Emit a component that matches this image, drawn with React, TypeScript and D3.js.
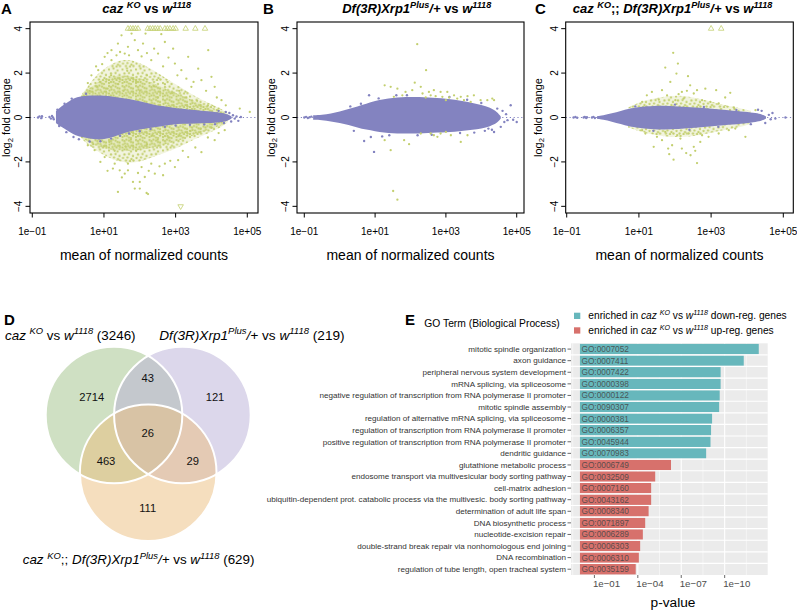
import React from 'react';
import * as d3 from 'd3';

const FONT = "'Liberation Sans', Arial, Helvetica, sans-serif";
const PURPLE = '#8383c0';
const GREEN = '#c3cf6f';

// ---------- MA plot axes ----------
const maXTicks = [-1, 1, 3, 5];
const maXTickLabels = ['1e\u221201', '1e+01', '1e+03', '1e+05'];
const maYTicks = [-4, -2, 0, 2, 4];
const maYTickLabels = ['\u22124', '\u22122', '0', '2', '4'];

// ---------- Panel A: caz KO vs w1118 ----------
// envelopes: [log10 mean, upper log2FC, lower log2FC]
const aPurpleEnv = [
  [-0.34, 0.28, -0.25], [-0.2, 0.5, -0.42], [0.0, 0.7, -0.6], [0.18, 0.9, -0.8], [0.45, 0.98, -0.9],
  [0.75, 1.0, -1.0], [1.05, 0.98, -0.98], [1.3, 0.93, -0.85], [1.6, 0.85, -0.68], [1.86, 0.78, -0.58],
  [2.14, 0.68, -0.5], [2.42, 0.56, -0.43], [2.6, 0.52, -0.4], [2.88, 0.45, -0.32], [3.2, 0.4, -0.28],
  [3.54, 0.33, -0.27], [3.9, 0.28, -0.25], [4.28, 0.22, -0.22], [4.45, 0.15, -0.15], [4.56, 0.05, -0.05],
];
const aGreenEnv = [
  [0.35, 0.95, -0.9], [0.5, 1.3, -1.15], [0.75, 1.85, -1.45], [1.0, 2.2, -1.7], [1.25, 2.45, -1.9],
  [1.5, 2.6, -2.0], [1.75, 2.6, -2.05], [2.0, 2.45, -2.0], [2.25, 2.25, -1.85], [2.5, 2.0, -1.7],
  [2.75, 1.75, -1.55], [3.0, 1.5, -1.4], [3.25, 1.25, -1.2], [3.5, 1.0, -1.0], [3.75, 0.78, -0.82],
  [4.0, 0.6, -0.65], [4.25, 0.4, -0.45], [4.45, 0.2, -0.22],
];
const aGreenDenseEnv = [
  [0.4, 1.1, -0.95], [0.75, 1.5, -1.25], [1.0, 1.75, -1.4], [1.5, 1.95, -1.5], [2.0, 1.8, -1.5],
  [2.5, 1.45, -1.3], [3.0, 1.1, -1.1], [3.5, 0.75, -0.8], [4.0, 0.45, -0.5], [4.35, 0.25, -0.3],
];
const aPurplePts = [
  [-0.84, 0.0], [-0.8, 0.05], [-0.75, -0.03], [-0.73, 0.06], [-0.52, 0.02], [-0.48, -0.05], [-0.45, 0.07],
  [-0.42, 0.0], [-0.4, -0.08], [4.6, 0.1], [4.65, -0.05], [4.7, 0.05], [4.75, -0.15], [4.82, 0.02],
  [4.5, 0.2], [4.55, -0.18], [4.4, 0.25], [4.35, -0.25],
  [-0.3, 0.35], [-0.25, -0.38], [-0.1, 0.62], [-0.05, -0.66], [0.1, 0.85], [0.15, -0.88], [0.3, -0.98],
  [0.6, -1.08], [0.9, -1.07], [1.2, -0.95], [1.45, -0.82], [0.5, 1.07], [1.7, -0.72], [2.0, -0.62],
  [2.3, -0.52], [2.7, -0.42], [3.0, -0.36], [3.4, -0.33], [3.8, -0.31], [4.1, -0.3], [4.2, 0.3],
];
const aGreenPts = [
  [2.6, 3.75], [2.16, 3.78], [2.09, 3.33], [2.7, 3.4], [3.91, 3.03], [2.93, 3.1], [1.49, 3.7], [1.67, 3.18],
  [1.21, 3.03], [1.02, 2.73], [1.39, 3.33], [1.86, 3.48], [2.51, 2.88], [3.35, 2.73], [3.63, 2.2], [4.0, 1.83],
  [3.16, 2.13], [1.21, 2.58], [0.84, 2.13], [2.32, 2.58], [2.98, 2.43], [3.72, 1.68], [4.09, 1.38], [3.44, 1.38],
  [4.28, 0.78], [4.79, 0.4], [5.07, 0.25], [1.58, 2.88], [1.95, 3.03], [1.35, 2.8], [1.77, 3.78],
  [2.4, 3.1], [2.8, 2.7], [1.1, 2.9], [0.95, 2.4], [2.2, 2.9], [3.05, 1.9], [3.5, 1.6], [0.65, 1.9],
  [0.55, 1.55], [1.7, 2.8], [2.65, 2.3], [3.85, 1.2], [4.15, 0.9], [4.4, 0.55], [1.45, 2.95], [2.05, 2.75],
  [0.78, 2.3], [3.3, 1.75],
  [0.6, 1.2], [0.9, 1.6], [1.2, 1.9], [1.4, 1.5], [1.65, 2.1], [1.9, 1.6], [2.2, 1.9], [2.4, 1.4], [2.7, 1.5],
  [2.9, 1.1], [3.1, 1.2], [3.3, 0.9], [3.6, 0.75], [3.9, 0.55], [4.2, 0.4], [1.1, 1.3], [1.55, 1.2], [2.0, 1.2],
  [2.5, 0.9], [0.8, 1.4],
  [1.39, -3.35], [1.81, -2.9], [2.0, -2.9], [1.86, -3.2], [2.0, -3.2], [1.58, -2.53], [1.67, -2.38],
  [2.14, -2.68], [2.42, -2.53], [2.65, -2.6], [2.98, -2.23], [2.7, -2.08], [1.3, -2.08], [1.02, -1.78],
  [0.74, -1.47], [3.35, -1.78], [3.72, -1.56], [4.09, -1.02], [4.37, -0.57], [3.07, -1.92], [2.05, -2.23],
  [2.32, -2.08], [1.67, -2.08], [1.44, -2.38], [1.25, -2.3], [2.19, -3.4], [2.23, -3.45],
  [0.55, -1.25], [0.9, -2.0], [1.1, -2.4], [2.25, -2.4], [2.85, -1.95], [3.2, -1.5], [3.55, -1.35], [3.9, -0.9],
  [4.2, -0.7], [1.95, -2.5], [2.55, -2.2], [1.5, -2.7],
  [0.7, -1.2], [1.0, -1.3], [1.3, -1.5], [1.6, -1.3], [1.9, -1.5], [2.2, -1.2], [2.5, -1.0], [2.8, -0.9],
  [3.1, -0.8], [3.4, -0.6], [3.7, -0.5], [4.0, -0.45], [1.15, -1.1], [1.75, -1.0], [2.35, -0.8],
];
const aUpTriangles = [1.67, 1.74, 1.81, 1.88, 1.95, 2.22, 2.29, 2.36, 2.43, 2.5, 2.57, 2.7, 2.77, 2.84, 2.93, 3.0, 3.28, 3.55, 3.82];
const aDownTriangles = [3.14];

// ---------- Panel B: Df(3R)Xrp1Plus/+ vs w1118 ----------
const bPurpleEnv = [
  [-0.75, 0.1, -0.1], [-0.5, 0.12, -0.12], [-0.25, 0.18, -0.17], [0.0, 0.27, -0.25], [0.25, 0.38, -0.33],
  [0.5, 0.5, -0.45], [0.75, 0.62, -0.55], [1.0, 0.75, -0.62], [1.25, 0.82, -0.68], [1.5, 0.88, -0.72],
  [1.75, 0.92, -0.72], [2.0, 0.93, -0.72], [2.25, 0.92, -0.72], [2.5, 0.9, -0.7], [2.75, 0.88, -0.68],
  [3.0, 0.85, -0.66], [3.25, 0.8, -0.64], [3.5, 0.73, -0.6], [3.75, 0.65, -0.55], [4.0, 0.57, -0.5],
  [4.25, 0.45, -0.4], [4.45, 0.25, -0.25], [4.55, 0.05, -0.05],
];
const bPurplePts = [
  [-1.0, 0.0], [-0.95, 0.03], [-0.9, -0.02], [-0.85, 0.01], [-0.8, 0.04], [0.69, -1.06], [0.88, -0.88],
  [0.97, -1.55], [0.83, 1.0], [4.36, -0.65], [4.55, -0.42], [4.83, 0.55], [5.0, -0.2], [4.74, -0.12],
  [4.6, 0.3], [4.65, -0.2], [4.7, 0.15], [4.9, -0.1], [4.3, -0.55], [4.1, -0.6], [1.2, -0.85], [1.6, 1.0],
  [3.8, -0.68], [4.45, 0.4], [0.4, -0.6], [0.3, 0.5],
  [0.6, 0.62], [1.1, 0.86], [1.4, -0.8], [1.9, 1.0], [2.2, -0.8], [2.6, -0.78], [3.1, 0.92], [3.4, -0.7],
  [3.6, 0.8], [4.0, 0.65], [4.2, -0.5],
];
const bGreenPts = [
  [2.19, 3.3], [2.44, 2.13], [1.27, 1.45], [1.44, 1.38], [2.12, 1.57], [2.29, 1.38], [1.63, 1.3], [2.05, 1.23],
  [1.86, 1.15], [2.52, 1.15], [2.66, 1.23], [2.85, 1.15], [3.04, 1.15], [3.23, 1.0], [3.42, 0.93], [3.61, 0.96],
  [3.79, 1.0], [3.98, 0.78], [4.17, 0.78], [4.31, 0.85], [4.36, 0.78], [2.34, 1.08], [2.57, 1.0], [2.71, 0.96],
  [2.9, 0.93], [3.09, 0.9], [3.32, 0.85], [2.43, 0.9], [3.0, 0.78], [3.51, 0.78], [3.7, 0.7], [1.77, 1.0],
  [1.53, 0.93],
  [1.27, -1.02], [1.44, -1.47], [1.96, -1.2], [1.82, -1.02], [2.66, -0.8], [2.85, -0.72], [3.42, -1.1],
  [3.61, -0.8], [3.0, -0.65], [2.57, -0.72], [2.76, -0.87], [1.51, -3.31], [1.63, -3.7], [2.29, -0.72],
  [3.14, -0.8],
];

// ---------- Panel C: caz KO;; Df(3R)Xrp1Plus/+ vs w1118 ----------
const cPurpleEnv = [
  [-0.16, 0.06, -0.06], [0.0, 0.1, -0.1], [0.25, 0.18, -0.18], [0.5, 0.3, -0.3], [0.72, 0.4, -0.4],
  [1.0, 0.47, -0.47], [1.18, 0.5, -0.5], [1.64, 0.55, -0.55], [2.1, 0.5, -0.52], [2.56, 0.45, -0.47],
  [3.03, 0.4, -0.4], [3.49, 0.32, -0.32], [3.95, 0.25, -0.27], [4.25, 0.2, -0.2], [4.41, 0.14, -0.14],
  [4.52, 0.05, -0.05],
];
const cGreenEnv = [
  [0.7, 0.45, -0.45], [1.0, 0.68, -0.62], [1.3, 0.82, -0.75], [1.7, 0.95, -0.85], [2.1, 1.0, -0.9],
  [2.5, 0.92, -0.85], [2.9, 0.75, -0.72], [3.3, 0.58, -0.58], [3.7, 0.45, -0.48], [4.1, 0.3, -0.3],
];
const cPurplePts = [
  [-0.81, 0.0], [-0.76, 0.02], [-0.71, -0.01], [-0.53, 0.0], [-0.5, 0.03], [-0.46, -0.02], [-0.44, 0.01],
  [-0.3, 0.0], [-0.26, 0.03], [-0.22, -0.02], [4.6, 0.12], [4.65, -0.08], [4.7, 0.2], [4.78, -0.05],
  [5.06, 0.0], [4.4, 0.3], [4.5, -0.25], [4.3, 0.35],
  [0.9, 0.5], [1.4, -0.6], [2.0, 0.58], [2.4, -0.55], [2.8, 0.47], [3.2, -0.42], [3.7, 0.34], [4.1, -0.3],
];
const cGreenPts = [
  [1.95, 2.91], [1.73, 2.25], [2.08, 2.43], [2.04, 1.98], [2.36, 1.86], [1.87, 1.6], [2.42, 1.45], [2.84, 1.3],
  [3.14, 1.23], [3.53, 1.11], [3.39, 0.9], [1.36, 1.15], [1.22, 1.0], [1.64, 1.23], [2.19, 1.15], [2.61, 1.23],
  [2.52, 1.08], [2.24, 0.85], [2.01, 0.78], [1.55, 0.81], [1.09, 0.7], [2.75, 0.78], [2.98, 0.7], [3.21, 0.63],
  [3.63, 0.45], [4.23, 0.33], [1.78, 1.0], [2.1, 1.05], [2.33, 1.2],
  [1.96, -1.9], [2.61, -2.05], [2.31, -1.6], [2.43, -1.7], [1.81, -1.4], [1.41, -1.32], [1.92, -1.25],
  [2.52, -1.32], [2.56, -1.5], [2.93, -0.87], [3.95, -0.87], [1.64, -1.02], [2.15, -0.95], [1.18, -0.72],
  [1.09, -0.57], [3.21, -0.72], [3.49, -0.57], [3.67, -0.5], [2.75, -0.8], [2.06, -0.8], [1.5, -0.87],
  [2.38, -0.72], [1.73, -0.65], [2.7, -1.1], [2.19, -1.4], [1.84, -1.65],
];
const cUpTriangles = [3.0, 3.28];

// ---------- Panel D: Venn ----------
const vennSetTotals = [3246, 219, 629];
const vennRegionKeys = ['A', 'B', 'C', 'AB', 'AC', 'BC', 'ABC'];
const vennRegionCounts = [2714, 121, 111, 43, 463, 29, 26];

// ---------- Panel E: GO enrichment ----------
const goTerms = [
  'mitotic spindle organization',
  'axon guidance',
  'peripheral nervous system development',
  'mRNA splicing, via spliceosome',
  'negative regulation of transcription from RNA polymerase II promoter',
  'mitotic spindle assembly',
  'regulation of alternative mRNA splicing, via spliceosome',
  'regulation of transcription from RNA polymerase II promoter',
  'positive regulation of transcription from RNA polymerase II promoter',
  'dendritic guidance',
  'glutathione metabolic process',
  'endosome transport via multivesicular body sorting pathway',
  'cell-matrix adhesion',
  'ubiquitin-dependent prot. catabolic process via the multivesic. body sorting pathway',
  'determination of adult life span',
  'DNA biosynthetic process',
  'nucleotide-excision repair',
  'double-strand break repair via nonhomologous end joining',
  'DNA recombination',
  'regulation of tube length, open tracheal system',
];
const goIds = [
  'GO:0007052', 'GO:0007411', 'GO:0007422', 'GO:0000398', 'GO:0000122', 'GO:0090307', 'GO:0000381',
  'GO:0006357', 'GO:0045944', 'GO:0070983', 'GO:0006749', 'GO:0032509', 'GO:0007160', 'GO:0043162',
  'GO:0008340', 'GO:0071897', 'GO:0006289', 'GO:0006303', 'GO:0006310', 'GO:0035159',
];
const goPValues = [
  4.4e-13, 4.8e-12, 1.9e-10, 1.9e-10, 2.2e-10, 2.4e-10, 7.4e-10, 8.7e-10, 9.5e-10, 1.9e-9,
  5.1e-7, 6.3e-6, 1.2e-5, 1.2e-5, 1.8e-5, 3.1e-5, 4.5e-5, 6.9e-5, 8.5e-5, 1.4e-4,
];
const goDirection = ['down', 'down', 'down', 'down', 'down', 'down', 'down', 'down', 'down', 'down',
  'up', 'up', 'up', 'up', 'up', 'up', 'up', 'up', 'up', 'up'];
const goMajorExp = [1, 4, 7, 10];
const goMajorLabels = ['1e\u221201', '1e\u221204', '1e\u221207', '1e\u221210'];
const goMinorExp = [-0.5, 2.5, 5.5, 8.5, 11.5];

const TEAL = '#67b7bc';
const SALMON = '#d7716c';

type Seg = { t: string; i?: boolean; sup?: boolean; sub?: boolean };

function Rich({ x = 0, y = 0, size, anchor = 'start', segs, weight = 'normal', fill = '#000' }:
  { x?: number; y?: number; size: number; anchor?: string; segs: Seg[]; weight?: string; fill?: string }) {
  let cur = 0;
  return (
    <text x={x} y={y} fontSize={size} textAnchor={anchor} fontFamily={FONT} fontWeight={weight} fill={fill}
      style={{ whiteSpace: 'pre' }}>
      {segs.map((s, k) => {
        const target = s.sup ? -size * 0.4 : s.sub ? size * 0.25 : 0;
        const dy = target - cur;
        cur = target;
        return (
          <tspan key={k} dy={dy} fontSize={s.sup || s.sub ? size * 0.7 : size} fontStyle={s.i ? 'italic' : 'normal'}>
            {s.t}
          </tspan>
        );
      })}
    </text>
  );
}

const W1118: Seg[] = [{ t: 'w', i: true }, { t: '1118', i: true, sup: true }];
const CAZKO: Seg[] = [{ t: 'caz', i: true }, { t: ' ' }, { t: 'KO', i: true, sup: true }];
const DF: Seg[] = [{ t: 'Df(3R)Xrp1', i: true }, { t: 'Plus', i: true, sup: true }, { t: '/+', i: true }];

// speckle textures (style only) used to render dense point clouds
function SpeckleDefs() {
  const tileA = [[1, 2], [5.5, 1], [9.5, 3], [3, 6], [7.5, 5.5], [11.5, 7.5], [1.5, 9.5], [6, 9], [10, 10.5], [4.5, 12], [8.5, 12.5], [12, 12]];
  const tileB = [[3, 1], [7.5, 2.5], [11.5, 0.5], [1, 5], [5, 4.5], [9.5, 7], [3.5, 8.5], [7, 11], [11.5, 10.5], [1, 12.5]];
  return (
    <defs>
      <pattern id="speckA" width={13.5} height={13.5} patternUnits="userSpaceOnUse">
        {tileA.map((p, k) => <circle key={k} cx={p[0]} cy={p[1]} r={1.15} fill={GREEN} />)}
      </pattern>
      <pattern id="speckB" width={13.5} height={13.5} patternUnits="userSpaceOnUse">
        {tileB.map((p, k) => <circle key={k} cx={p[0]} cy={p[1]} r={1.15} fill={GREEN} />)}
      </pattern>
    </defs>
  );
}

function MAPlot(props: any) {
  const { left, right, xDomain, purpleEnv, greenEnv, greenDenseEnv, purplePts, greenPts, upTri, downTri, title, titleX,
    letter, letterX, yLabelX } = props;
  const top = 22, bottom = 213;
  const x = d3.scaleLinear().domain(xDomain).range([left, right]);
  const y = d3.scaleLinear().domain([-4.3, 4.3]).range([bottom, top]);
  const area = d3.area<number[]>().x(d => x(d[0])).y0(d => y(d[2])).y1(d => y(d[1])).curve(d3.curveBasis);
  const clipId = `clip-ma-${letter}`;
  const tri = d3.symbol().type(d3.symbolTriangle).size(13)() as string;
  const cx = (left + right) / 2;
  return (
    <g>
      <defs>
        <clipPath id={clipId}><rect x={left} y={top} width={right - left} height={bottom - top} /></clipPath>
      </defs>
      <g clipPath={`url(#${clipId})`}>
        <line x1={left} x2={right} y1={y(0)} y2={y(0)} stroke={PURPLE} strokeWidth={1.2} strokeDasharray="1.2 2.6" />
        {greenEnv && (
          <g>
            <path d={area(greenEnv) as string} fill={GREEN} fillOpacity={0.22} />
            <path d={area(greenEnv) as string} fill="url(#speckA)" />
          </g>
        )}
        {greenDenseEnv && (
          <g>
            <path d={area(greenDenseEnv) as string} fill={GREEN} fillOpacity={0.25} />
            <path d={area(greenDenseEnv) as string} fill="url(#speckB)" />
          </g>
        )}
        <path d={area(purpleEnv) as string} fill={PURPLE} />
        {purplePts.map((p: number[], k: number) => <circle key={'p' + k} cx={x(p[0])} cy={y(p[1])} r={1.2} fill={PURPLE} />)}
        {greenPts.map((p: number[], k: number) => <circle key={'g' + k} cx={x(p[0])} cy={y(p[1])} r={1.15} fill={GREEN} />)}
        {upTri.map((v: number, k: number) => (
          <path key={'u' + k} d={tri} transform={`translate(${x(v)},${y(4)})`} fill="none" stroke={GREEN} strokeWidth={0.8} />
        ))}
        {downTri.map((v: number, k: number) => (
          <path key={'d' + k} d={tri} transform={`translate(${x(v)},${y(-4)}) rotate(180)`} fill="none" stroke={GREEN} strokeWidth={0.8} />
        ))}
      </g>
      <rect x={left} y={top} width={right - left} height={bottom - top} fill="none" stroke="#000" strokeWidth={1.1} />
      {maXTicks.map((t, k) => (
        <g key={'xt' + k}>
          <line x1={x(t)} x2={x(t)} y1={bottom} y2={bottom + 4.5} stroke="#000" strokeWidth={1} />
          <text x={x(t)} y={235} fontSize={10} textAnchor="middle" fontFamily={FONT}>{maXTickLabels[k]}</text>
        </g>
      ))}
      {maYTicks.map((t, k) => (
        <g key={'yt' + k}>
          <line x1={left - 4.5} x2={left} y1={y(t)} y2={y(t)} stroke="#000" strokeWidth={1} />
          <text transform={`translate(${left - 8},${y(t)}) rotate(-90)`} fontSize={10} textAnchor="middle" fontFamily={FONT}>
            {maYTickLabels[k]}
          </text>
        </g>
      ))}
      <text x={cx} y={260} fontSize={14} textAnchor="middle" fontFamily={FONT}>mean of normalized counts</text>
      <g transform={`translate(${yLabelX},${(top + bottom) / 2}) rotate(-90)`}>
        <Rich size={11} anchor="middle" segs={[{ t: 'log' }, { t: '2', sub: true }, { t: ' fold change' }]} />
      </g>
      <Rich x={titleX} y={13} size={13} anchor="middle" weight="bold" segs={title} />
      <text x={letterX} y={13.5} fontSize={15} fontWeight="bold" fontFamily={FONT}>{letter}</text>
    </g>
  );
}

function Venn() {
  const r = 68.3;
  const centers = [[114, 415], [182.4, 415], [148.2, 472.7]];
  const fills = ['#9fc187', '#b9afd7', '#ebbd7d'];
  const labelPos: Record<string, number[]> = {
    A: [91.7, 396.7], B: [215, 396.7], C: [147.7, 508.3], AB: [147.7, 378.3], AC: [106, 461], BC: [192.7, 461], ABC: [147.7, 433.3],
  };
  return (
    <g>
      {centers.map((c, k) => <circle key={'f' + k} cx={c[0]} cy={c[1]} r={r} fill={fills[k]} fillOpacity={0.5} />)}
      {centers.map((c, k) => <circle key={'s' + k} cx={c[0]} cy={c[1]} r={r} fill="none" stroke="#fff" strokeWidth={2} />)}
      {vennRegionKeys.map((key, k) => (
        <text key={key} x={labelPos[key][0]} y={labelPos[key][1] + 4} fontSize={11.2} textAnchor="middle" fontFamily={FONT} fill="#111">
          {vennRegionCounts[k]}
        </text>
      ))}
      <Rich x={5} y={339.5} size={13.4} segs={[...CAZKO, { t: ' vs ' }, ...W1118, { t: ` (${vennSetTotals[0]})` }]} />
      <Rich x={159.3} y={339.5} size={13.6} segs={[...DF, { t: ' vs ' }, ...W1118, { t: ` (${vennSetTotals[1]})` }]} />
      <Rich x={22.7} y={564} size={13.4} segs={[...CAZKO, { t: ';; ' }, ...DF, { t: ' vs ' }, ...W1118, { t: ` (${vennSetTotals[2]})` }]} />
      <text x={4} y={325} fontSize={15} fontWeight="bold" fontFamily={FONT}>D</text>
    </g>
  );
}

function GOPanel() {
  const left = 571, right = 767.7, top = 343.3, bottom = 575;
  const vals = goPValues.map(p => -Math.log10(p));
  const maxV = d3.max(vals) as number;
  const x = d3.scaleLinear().domain([-0.05 * maxV, maxV * 1.05]).range([left, right]);
  const yb = d3.scaleBand().domain(goIds).range([top, bottom]);
  const bw = yb.bandwidth();
  return (
    <g>
      <rect x={left} y={top} width={right - left} height={bottom - top} fill="#ebebeb" />
      {goMinorExp.map((e, k) => <line key={'mn' + k} x1={x(e)} x2={x(e)} y1={top} y2={bottom} stroke="#fff" strokeWidth={0.5} />)}
      {goMajorExp.map((e, k) => <line key={'mj' + k} x1={x(e)} x2={x(e)} y1={top} y2={bottom} stroke="#fff" strokeWidth={1.1} />)}
      {goIds.map((id, k) => (
        <rect key={'b' + k} x={x(0)} y={(yb(id) as number) + 0.6} width={x(vals[k]) - x(0)} height={bw - 1.2}
          fill={goDirection[k] === 'down' ? TEAL : SALMON} />
      ))}
      {goIds.slice(1).map((id, k) => (
        <line key={'hl' + k} x1={left} x2={right} y1={yb(id) as number} y2={yb(id) as number} stroke="#fff" strokeWidth={1.2} />
      ))}
      {goIds.map((id, k) => (
        <text key={'id' + k} x={x(0) + 1.5} y={(yb(id) as number) + bw / 2 + 3} fontSize={8.3} fontFamily={FONT} fill="#444" fillOpacity={0.85}>
          {id}
        </text>
      ))}
      {goTerms.map((t, k) => (
        <g key={'t' + k}>
          <text x={left - 5} y={(yb(goIds[k]) as number) + bw / 2 + 2.8} fontSize={8.1} textAnchor="end" fontFamily={FONT} fill="#333">{t}</text>
          <line x1={left - 3.5} x2={left} y1={(yb(goIds[k]) as number) + bw / 2} y2={(yb(goIds[k]) as number) + bw / 2} stroke="#444" strokeWidth={0.8} />
        </g>
      ))}
      {goMajorExp.map((e, k) => (
        <g key={'xt' + k}>
          <line x1={x(e)} x2={x(e)} y1={bottom} y2={bottom + 3} stroke="#444" strokeWidth={0.8} />
          <text x={x(e) - 1.5} y={587} fontSize={9.7} fontFamily={FONT} fill="#4d4d4d">{goMajorLabels[k]}</text>
        </g>
      ))}
      <text x={673} y={607} fontSize={13.7} textAnchor="middle" fontFamily={FONT}>p-value</text>
      <text x={424.3} y={327} fontSize={10.3} fontFamily={FONT}>GO Term (Biological Process)</text>
      <rect x={574} y={312.7} width={6.3} height={6.3} fill={TEAL} />
      <rect x={574} y={327.3} width={6.3} height={6.3} fill={SALMON} />
      <Rich x={588.3} y={319.3} size={10.2} segs={[{ t: 'enriched in ' }, ...CAZKO, { t: ' vs ' }, ...W1118, { t: ' down-reg. genes' }]} />
      <Rich x={588.3} y={333.6} size={10.2} segs={[{ t: 'enriched in ' }, ...CAZKO, { t: ' vs ' }, ...W1118, { t: ' up-reg. genes' }]} />
      <text x={405} y={325} fontSize={15} fontWeight="bold" fontFamily={FONT}>E</text>
    </g>
  );
}

export default function App() {
  return (
    <svg width={797} height={612} style={{ position: 'absolute', left: 0, top: 0, background: '#fff' }}
      xmlns="http://www.w3.org/2000/svg">
      <rect width={797} height={612} fill="#fff" />
      <SpeckleDefs />
      <MAPlot left={30} right={258} xDomain={[-1.064, 5.299]} purpleEnv={aPurpleEnv} greenEnv={aGreenEnv} greenDenseEnv={aGreenDenseEnv}
        purplePts={aPurplePts} greenPts={aGreenPts} upTri={aUpTriangles} downTri={aDownTriangles}
        title={[...CAZKO, { t: ' vs ' }, ...W1118]} titleX={146.7} letter="A" letterX={1} yLabelX={10} />
      <MAPlot left={297} right={524} xDomain={[-1.206, 5.206]} purpleEnv={bPurpleEnv} greenEnv={null} greenDenseEnv={null}
        purplePts={bPurplePts} greenPts={bGreenPts} upTri={[]} downTri={[]}
        title={[...DF, { t: ' vs ' }, ...W1118]} titleX={416.7} letter="B" letterX={263} yLabelX={274.5} />
      <MAPlot left={565.7} right={793.3} xDomain={[-1.028, 5.277]} purpleEnv={cPurpleEnv} greenEnv={cGreenEnv} greenDenseEnv={null}
        purplePts={cPurplePts} greenPts={cGreenPts} upTri={cUpTriangles} downTri={[]}
        title={[...CAZKO, { t: ';; ' }, ...DF, { t: ' vs ' }, ...W1118]} titleX={672.5} letter="C" letterX={535} yLabelX={541.5} />
      <Venn />
      <GOPanel />
    </svg>
  );
}
